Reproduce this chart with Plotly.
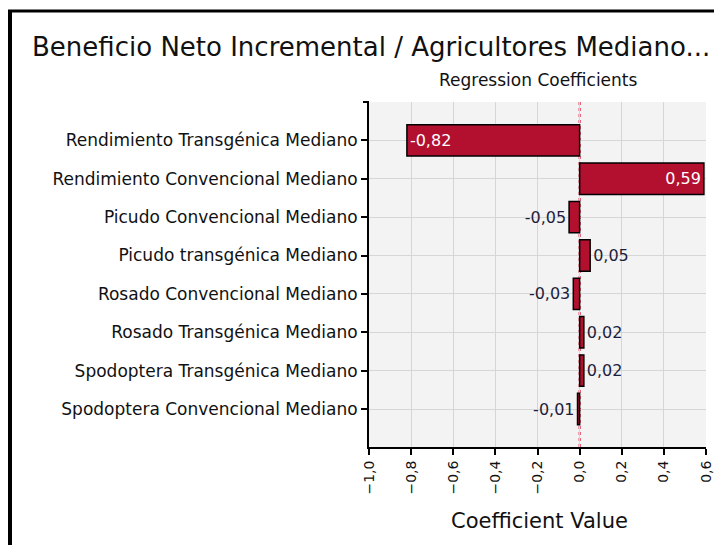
import plotly.graph_objects as go

# values
variables = [
    "Rendimiento Transgénica Mediano",
    "Rendimiento Convencional Mediano",
    "Picudo Convencional Mediano",
    "Picudo transgénica Mediano",
    "Rosado Convencional Mediano",
    "Rosado Transgénica Mediano",
    "Spodoptera Transgénica Mediano",
    "Spodoptera Convencional Mediano",
]
coefficients = [-0.82, 0.59, -0.05, 0.05, -0.03, 0.02, 0.02, -0.01]
x_ticks = [-1.0, -0.8, -0.6, -0.4, -0.2, 0.0, 0.2, 0.4, 0.6]

# page body has an 8px margin; keep the figure inside the window
OFF = 8
W, H = 722 - 2 * OFF, 553 - 2 * OFF
L, R, T, B = 369, 706, 102, 447   # plot area in screen pixels


def px(x):
    return (x - L) / (R - L)


def py(y):
    return (B - y) / (B - T)


labels = [f"{v:.2f}".replace(".", ",") for v in coefficients]
positions = ["inside" if abs(v) > 0.3 else "outside" for v in coefficients]

fig = go.Figure()
fig.add_trace(go.Bar(
    x=coefficients, y=variables, orientation="h",
    marker=dict(color="#b3102f", line=dict(color="black", width=1.5)),
    width=0.82,
    text=labels, textposition=positions, insidetextanchor="end",
    insidetextfont=dict(color="white", size=16, family="DejaVu Sans"),
    outsidetextfont=dict(color="#1e1e3c", size=16, family="DejaVu Sans"),
    cliponaxis=False,
))

# dotted zero line
fig.add_shape(type="line", x0=0, x1=0, y0=0, y1=1, xref="x", yref="paper",
              line=dict(color="#e0103a", width=2, dash="dot"), layer="below")

# outer frame
fig.add_shape(type="line", xref="paper", yref="paper",
              x0=px(10), x1=px(10), y0=py(11), y1=py(545),
              line=dict(color="black", width=4))
fig.add_shape(type="line", xref="paper", yref="paper",
              x0=px(8), x1=px(714), y0=py(11), y1=py(11),
              line=dict(color="black", width=3))
# small tick at top of y axis
fig.add_shape(type="line", xref="paper", yref="paper",
              x0=px(363), x1=px(369), y0=1, y1=1,
              line=dict(color="black", width=2))

fig.add_annotation(text="Beneficio Neto Incremental / Agricultores Mediano...",
                   xref="paper", yref="paper", x=px(30), y=py(47),
                   xanchor="left", yanchor="middle", showarrow=False,
                   font=dict(size=26, color="#111111", family="DejaVu Sans"))
fig.add_annotation(text="Regression Coefficients",
                   xref="paper", yref="paper", x=px(538), y=py(80),
                   xanchor="center", yanchor="middle", showarrow=False,
                   font=dict(size=17, color="#111111", family="DejaVu Sans"))
fig.add_annotation(text="Coefficient Value",
                   xref="paper", yref="paper", x=px(539), y=py(521),
                   xanchor="center", yanchor="middle", showarrow=False,
                   font=dict(size=21, color="#111111", family="DejaVu Sans"))

fig.update_layout(
    width=W, height=H,
    margin=dict(l=L - OFF, r=W - (R - OFF), t=T - OFF, b=H - (B - OFF)),
    paper_bgcolor="white", plot_bgcolor="#f3f3f3",
    separators=",.",
    showlegend=False,
)
fig.update_xaxes(
    range=[-1.0, 0.6], tickvals=x_ticks, tickformat=".1f", tickangle=-90,
    automargin=False, ticklabeloverflow="allow",
    showgrid=True, gridcolor="#d6d6d6", gridwidth=1, zeroline=False,
    showline=True, linecolor="black", linewidth=2,
    ticks="outside", ticklen=6, tickcolor="black", tickwidth=2,
    tickfont=dict(size=14, color="#111111", family="DejaVu Sans"),
)
fig.update_yaxes(
    range=[7.99, -1], automargin=False,
    showgrid=True, gridcolor="#d6d6d6", gridwidth=1,
    showline=True, linecolor="black", linewidth=2,
    ticks="outside", ticklen=6, tickcolor="black", tickwidth=2,
    tickfont=dict(size=17, color="#111111", family="DejaVu Sans"),
)

fig.write_html("out.html")
